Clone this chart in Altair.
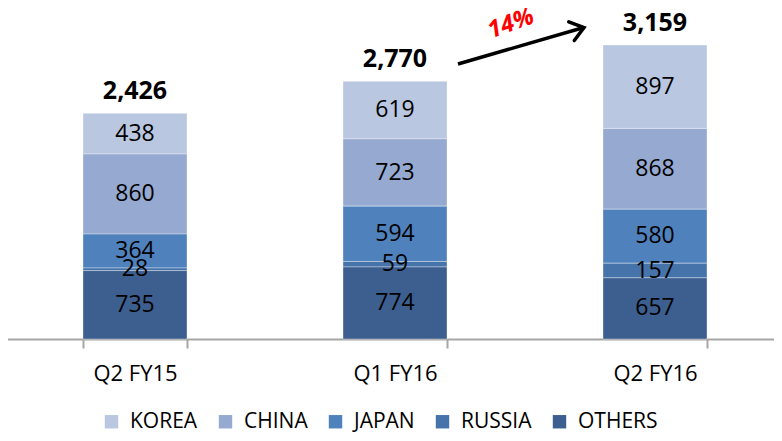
import altair as alt
import pandas as pd

quarters = ["Q2 FY15", "Q1 FY16", "Q2 FY16"]
regions = ["KOREA", "CHINA", "JAPAN", "RUSSIA", "OTHERS"]
korea = [438, 619, 897]
china = [860, 723, 868]
japan = [364, 594, 580]
russia = [28, 59, 157]
others = [735, 774, 657]
totals = [2426, 2770, 3159]
growth_label = "14%"

colors = ["#B9C7E1", "#95A9D1", "#4F81BD", "#4673AA", "#3C5F8F"]
FONT = "Open Sans"

series = {"KOREA": korea, "CHINA": china, "JAPAN": japan, "RUSSIA": russia, "OTHERS": others}
rows = []
for r in regions:
    for q, v in zip(quarters, series[r]):
        rows.append({"quarter": q, "region": r, "value": v,
                     "rank": len(regions) - 1 - regions.index(r)})
df = pd.DataFrame(rows)
tot = pd.DataFrame({"quarter": quarters, "total": totals,
                    "label": [f"{t:,}" for t in totals]})

xscale = alt.Scale(domain=quarters, paddingInner=0.6, paddingOuter=0.3, range=[-3, 777])
yscale = alt.Scale(domain=[0, 3470], nice=False, zero=True)

x_enc = alt.X("quarter:N", scale=xscale, sort=quarters, title=None,
              axis=alt.Axis(labelAngle=0, labelFont=FONT, labelFontSize=22,
                            labelColor="#000000", domainColor="#A6A6A6",
                            domainWidth=2, tickColor="#A6A6A6", tickWidth=2,
                            tickSize=9, tickBand="extent", labelPadding=15,
                            grid=False))

base = alt.Chart(df).transform_stack(
    stack="value", groupby=["quarter"], as_=["y0", "y1"],
    sort=[alt.SortField("rank", order="ascending")]
).transform_calculate(mid="(datum.y0 + datum.y1) / 2")

bars = base.mark_bar(stroke="#FFFFFF", strokeOpacity=0.35, strokeWidth=1).encode(
    x=x_enc,
    y=alt.Y("y0:Q", scale=yscale, axis=None),
    y2="y1:Q",
    color=alt.Color("region:N", scale=alt.Scale(domain=regions, range=colors),
                    sort=regions,
                    legend=alt.Legend(title=None, orient="none", direction="horizontal",
                                      legendX=93, legendY=395,
                                      symbolType="square", symbolSize=180,
                                      symbolStrokeWidth=0, labelFont=FONT,
                                      labelFontSize=21, labelColor="#000000",
                                      columnPadding=17, labelOffset=8)),
)

seg_text = base.mark_text(font=FONT, fontSize=23, color="#000000", baseline="middle").encode(
    x=alt.X("quarter:N", scale=xscale, sort=quarters),
    y=alt.Y("mid:Q", scale=yscale),
    text="value:Q",
)

tot_text = alt.Chart(tot).mark_text(font=FONT, fontSize=25, fontWeight="bold",
                                    color="#000000", baseline="middle", dy=-22).encode(
    x=alt.X("quarter:N", scale=xscale, sort=quarters),
    y=alt.Y("total:Q", scale=yscale),
    text="label:N",
)

ann = pd.DataFrame({"label": [growth_label]})
shaft = alt.Chart(ann).mark_rule(color="#000000", strokeWidth=3.5).encode(
    x=alt.value(450), y=alt.value(48), x2=alt.value(574), y2=alt.value(12))
head = alt.Chart(ann).mark_point(shape="M-1,-0.75L0,0L-1,0.75", filled=False,
                                 stroke="#000000", strokeWidth=3.5, size=676,
                                 angle=343.5, strokeCap="round",
                                 strokeJoin="miter", opacity=1).encode(
    x=alt.value(576), y=alt.value(11.5))
growth = alt.Chart(ann).mark_text(font=FONT, fontSize=24, fontWeight="bold",
                                  fontStyle="italic", color="#FF0000", angle=340,
                                  baseline="middle", align="center").encode(
    x=alt.value(503), y=alt.value(8), text="label:N")

chart = alt.layer(bars, seg_text, tot_text, shaft, head, growth).properties(
    width=766, height=323,
    autosize=alt.AutoSizeParams(type="none"),
    padding={"left": 0, "top": 8, "right": 0, "bottom": 94},
).configure_view(stroke=None)

chart.save("out.html", embed_options={"renderer": "svg", "actions": False})
